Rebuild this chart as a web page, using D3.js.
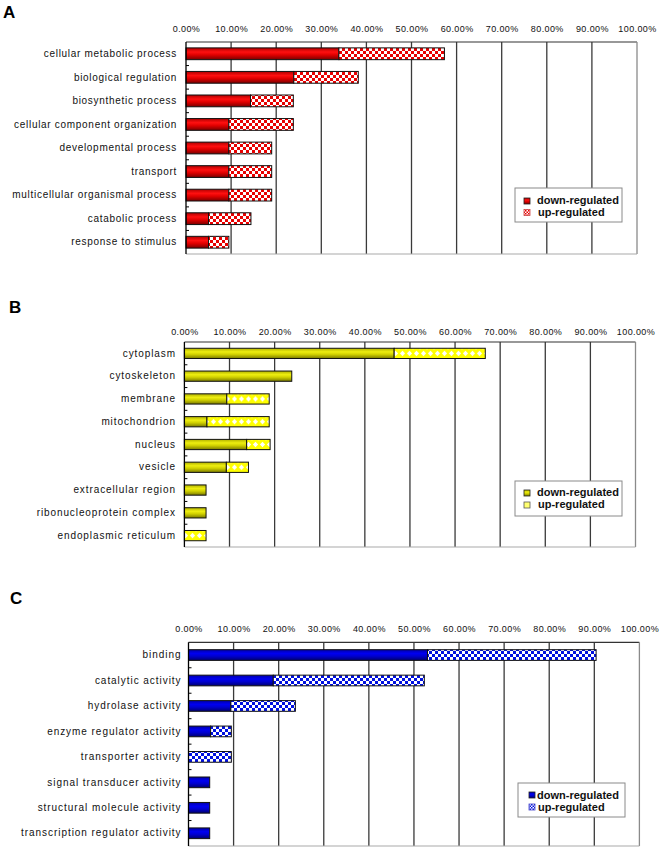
<!DOCTYPE html>
<html><head><meta charset="utf-8">
<script src="https://cdn.jsdelivr.net/npm/d3@7"></script>
<style>body{margin:0;background:#fff}svg{display:block;font-family:"Liberation Sans",Arial,sans-serif}</style>
</head><body><svg id="c" width="662" height="850"></svg>
<script>
// ---------- data ----------
const ticks=[0,10,20,30,40,50,60,70,80,90,100];
const seriesNames=["down-regulated","up-regulated"];

const catsA=["cellular metabolic process","biological regulation","biosynthetic process","cellular component organization","developmental process","transport","multicellular organismal process","catabolic process","response to stimulus"];
const downA=[33.9,23.9,14.3,9.5,9.5,9.5,9.5,5.0,5.0];
const upA=[23.4,14.3,9.5,14.3,9.5,9.5,9.5,9.4,4.5];

const catsB=["cytoplasm","cytoskeleton","membrane","mitochondrion","nucleus","vesicle","extracellular region","ribonucleoprotein complex","endoplasmic reticulum"];
const downB=[46.5,23.8,9.4,5.0,13.8,9.3,4.8,4.8,0];
const upB=[20.2,0,9.4,13.8,5.2,4.9,0,0,4.8];

const catsC=["binding","catalytic activity","hydrolase activity","enzyme regulator activity","transporter activity","signal transducer activity","structural molecule activity","transcription regulator activity"];
const downC=[53.0,18.8,9.4,4.9,0,4.7,4.7,4.7];
const upC=[37.4,33.5,14.3,4.6,9.5,0,0,0];

// ---------- defs ----------
const svg=d3.select("#c");
const defs=svg.append("defs");
function grad(id,stops){
  const g=defs.append("linearGradient").attr("id",id).attr("x1",0).attr("y1",0).attr("x2",0).attr("y2",1);
  stops.forEach(s=>g.append("stop").attr("offset",s[0]).attr("stop-color",s[1]));
}
grad("gA",[[0,"#b00000"],[0.35,"#ff1010"],[0.6,"#e00000"],[1,"#7a0000"]]);
grad("gB",[[0,"#b0b000"],[0.35,"#eeee10"],[0.6,"#d0d000"],[1,"#7a7a00"]]);
grad("gC",[[0,"#0000a8"],[0.35,"#0000f0"],[0.6,"#0000d0"],[1,"#000070"]]);
function checker(id,color,s){
  const p=defs.append("pattern").attr("id",id).attr("patternUnits","userSpaceOnUse").attr("width",2*s).attr("height",2*s);
  p.append("rect").attr("width",2*s).attr("height",2*s).attr("fill","#fff");
  p.append("rect").attr("width",s).attr("height",s).attr("fill",color);
  p.append("rect").attr("x",s).attr("y",s).attr("width",s).attr("height",s).attr("fill",color);
}
checker("pA","#e80000",3);
checker("pC","#0010e0",3);
checker("pAs","#e80000",1.5);
checker("pCs","#0010e0",1.5);

// ---------- panel drawing ----------
function panel(cfg){
  const g=svg.append("g");
  const x=d3.scaleLinear().domain([0,100]).range([cfg.x0,cfg.x1]);
  const y=d3.scaleBand().domain(cfg.cats).range([cfg.top,cfg.bottom]);
  const bh=y.step()*cfg.barFrac;

  if(cfg.diamond){
    const st=y.step();
    const p=defs.append("pattern").attr("id","pB").attr("patternUnits","userSpaceOnUse")
      .attr("width",7).attr("height",st).attr("y",cfg.top);
    p.append("rect").attr("width",7).attr("height",st).attr("fill","#ffff00");
    const c=st/2, r=2.6;
    p.append("path").attr("d",`M3.5,${c-r}L${3.5+r},${c}L3.5,${c+r}L${3.5-r},${c}Z`).attr("fill","#fff");
    p.append("path").attr("d",`M0,${c-bh/2}L1.3,${c-bh/2}L0,${c-bh/2+1.3}Z M7,${c-bh/2}L5.7,${c-bh/2}L7,${c-bh/2+1.3}Z`).attr("fill","#fff8a0");
  }

  g.append("text").attr("x",cfg.lx).attr("y",cfg.ly).attr("font-size",17).attr("font-weight","bold").text(cfg.letter);

  // gridlines
  g.selectAll("line.grid").data(ticks.filter(t=>t>0&&t<100)).join("line")
    .attr("x1",d=>x(d)).attr("x2",d=>x(d)).attr("y1",cfg.top).attr("y2",cfg.bottom)
    .attr("stroke","#3a3a3a").attr("stroke-width",1.3);
  g.append("line").attr("x1",x(0)).attr("x2",x(100)).attr("y1",cfg.top).attr("y2",cfg.top).attr("stroke","#333").attr("stroke-width",1.2);
  g.append("line").attr("x1",x(100)).attr("x2",x(100)).attr("y1",cfg.top).attr("y2",cfg.bottom).attr("stroke","#8a8a8a").attr("stroke-width",1.3);
  g.append("line").attr("x1",x(0)).attr("x2",x(100)).attr("y1",cfg.bottom).attr("y2",cfg.bottom).attr("stroke","#aaa").attr("stroke-width",1.2);

  // top axis labels
  const ax=g.append("g").attr("transform",`translate(0,${cfg.top})`)
    .call(d3.axisTop(x).tickValues(ticks).tickSize(0).tickPadding(cfg.tickPad).tickFormat(d=>d.toFixed(2)+"%"));
  ax.select(".domain").remove();
  ax.selectAll("text").attr("font-size",9).attr("font-family",'"Liberation Sans",Arial,sans-serif').attr("letter-spacing",0.4).attr("fill","#111");

  // left axis labels
  const ay=g.append("g").attr("transform",`translate(${cfg.x0},0)`)
    .call(d3.axisLeft(y).tickSize(0).tickPadding(cfg.labelPad));
  ay.select(".domain").remove();
  ay.selectAll("text").attr("font-size",10).attr("font-family",'"Liberation Sans",Arial,sans-serif').attr("letter-spacing",cfg.ls).attr("fill","#111");

  // minor ticks at band boundaries
  g.selectAll("line.mt").data(cfg.cats.slice(1)).join("line")
    .attr("x1",x(0)).attr("x2",x(0)+3).attr("y1",d=>y(d)).attr("y2",d=>y(d)).attr("stroke","#000").attr("stroke-width",1);

  const rows=cfg.cats.map((c,i)=>({c,d:cfg.down[i],u:cfg.up[i]}));
  g.selectAll("rect.dn").data(rows.filter(r=>r.d>0)).join("rect")
    .attr("x",x(0)).attr("width",r=>x(r.d)-x(0))
    .attr("y",r=>y(r.c)+(y.step()-bh)/2).attr("height",bh)
    .attr("fill",cfg.downFill).attr("stroke","#111").attr("stroke-width",1);
  g.selectAll("rect.up").data(rows.filter(r=>r.u>0)).join("rect")
    .attr("x",r=>x(r.d)).attr("width",r=>x(r.d+r.u)-x(r.d))
    .attr("y",r=>y(r.c)+(y.step()-bh)/2).attr("height",bh)
    .attr("fill",cfg.upFill).attr("stroke","#111").attr("stroke-width",1);

  // left axis line
  g.append("line").attr("x1",x(0)).attr("x2",x(0)).attr("y1",cfg.top).attr("y2",cfg.bottom).attr("stroke","#000").attr("stroke-width",1.3);

  // legend
  const L=cfg.legend;
  const lg=g.append("g");
  lg.append("rect").attr("x",L.x).attr("y",L.y).attr("width",L.w).attr("height",L.h).attr("fill","#fff").attr("stroke","#8a8a8a");
  const sw=[cfg.downFill,cfg.legUp];
  seriesNames.forEach((n,i)=>{
    lg.append("rect").attr("x",L.sx).attr("y",L.sy+i*L.dy).attr("width",6).attr("height",6)
      .attr("fill",sw[i]).attr("stroke",i===0?"#222":cfg.legUpStroke).attr("stroke-width",0.8);
    lg.append("text").attr("x",L.tx+(i?1:0)).attr("y",L.ty+i*L.dy).attr("font-size",11).attr("font-weight","bold").attr("fill","#111").text(n);
  });
}

panel({letter:"A",lx:3,ly:18,cats:catsA,down:downA,up:upA,x0:186,x1:637,top:42,bottom:254,tickPad:10,labelPad:9,ls:0.7,barFrac:0.5,
  downFill:"url(#gA)",upFill:"url(#pA)",legUp:"url(#pAs)",legUpStroke:"#c44",
  legend:{x:515,y:188,w:107,h:34,sx:524,sy:198,dy:11.5,tx:537,ty:204}});
panel({letter:"B",lx:9,ly:313,cats:catsB,down:downB,up:upB,x0:184.4,x1:635.5,top:342,bottom:547,tickPad:7,labelPad:8.5,ls:0.9,barFrac:0.45,diamond:true,
  downFill:"url(#gB)",upFill:"url(#pB)",legUp:"#ffff70",legUpStroke:"#555",
  legend:{x:515,y:481,w:107,h:35,sx:524,sy:490,dy:12,tx:537,ty:496}});
panel({letter:"C",lx:10,ly:604,cats:catsC,down:downC,up:upC,x0:188.5,x1:639.4,top:642.3,bottom:846,tickPad:10,labelPad:7,ls:0.95,barFrac:0.42,
  downFill:"url(#gC)",upFill:"url(#pC)",legUp:"url(#pCs)",legUpStroke:"#44c",
  legend:{x:518,y:783,w:107,h:34,sx:529,sy:792,dy:12,tx:537,ty:798.5}});
</script></body></html>
